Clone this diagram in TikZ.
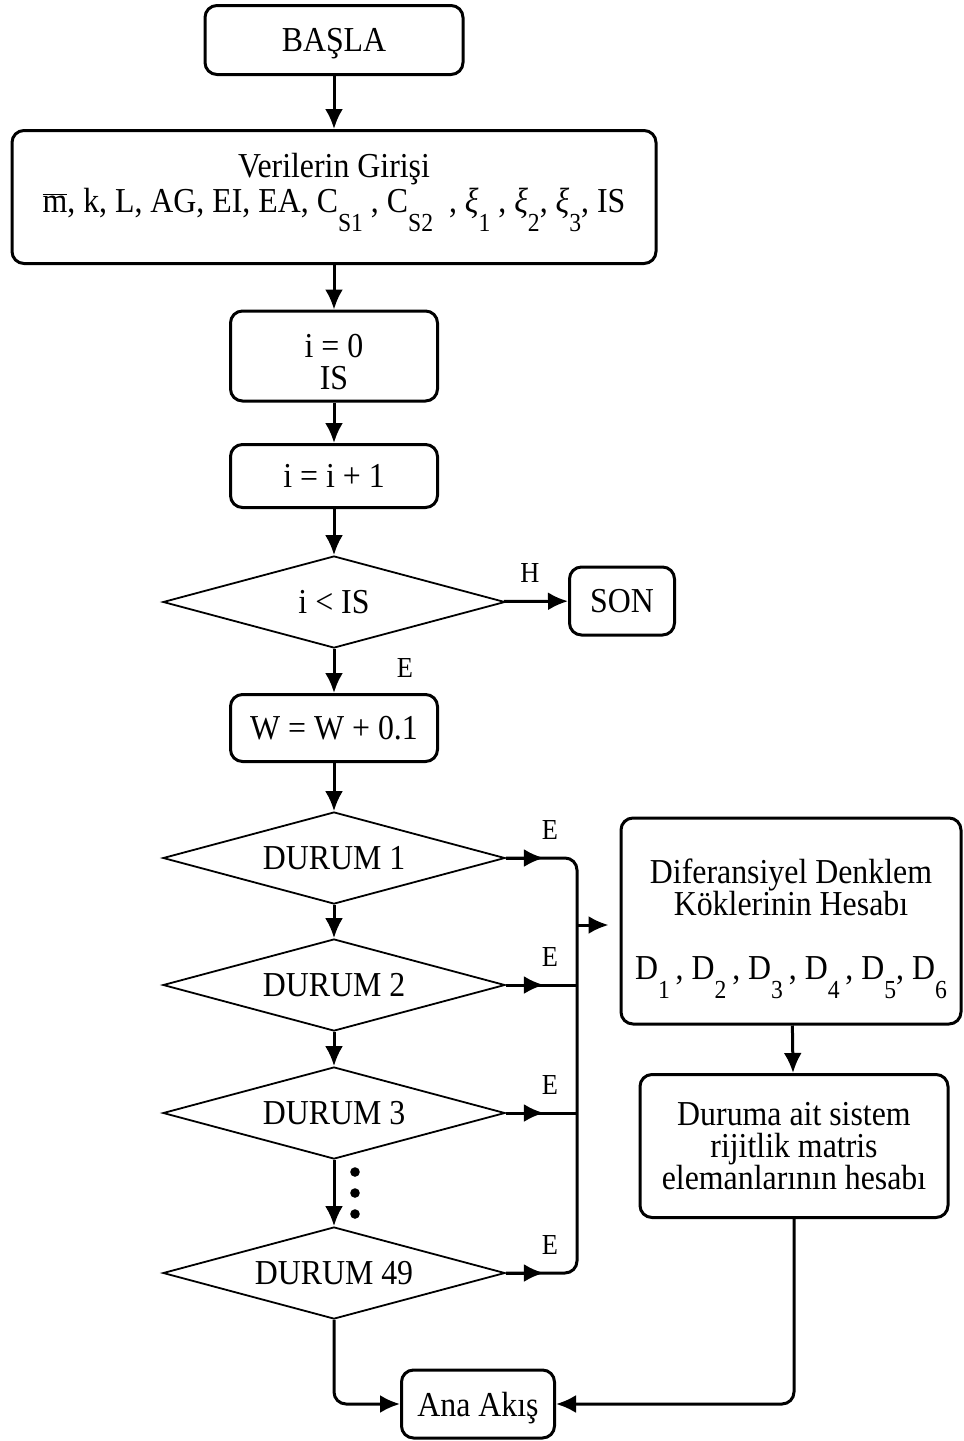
\documentclass[tikz,border=0pt]{standalone}
\usepackage{fontspec}
\setmainfont[FakeStretch=0.91]{Liberation Serif}
\usetikzlibrary{arrows.meta,positioning,shapes.geometric,calc}

\newcommand{\lowsub}[1]{\raisebox{-0.55em}{\fontsize{26}{26}\selectfont #1}}

\tikzset{
  procbox/.style={draw, rounded corners=12pt, line width=3pt, align=center,
                  inner sep=0pt, font=\fontsize{35}{32}\selectfont},
  decision/.style={draw, diamond, aspect=3.7, line width=1.8pt, minimum width=342pt,
                   minimum height=92pt, inner sep=0pt, font=\fontsize{35}{32}\selectfont},
  flow/.style={line width=3pt, -{Latex[length=20pt,width=18pt]}},
  plain/.style={line width=3pt},
  branch/.style={font=\fontsize{29}{30}\selectfont},
}

\begin{document}
\begin{tikzpicture}[x=1pt,y=-1pt]
\useasboundingbox (0,0) rectangle (964,1441);

% main column
\node[procbox, minimum width=258pt, minimum height=69pt, text depth=0pt] (basla) at (334,40) {BAŞLA};
\node[procbox, minimum width=644pt, minimum height=133pt, font=\fontsize{35}{35}\selectfont] (giris) at (334,197)
  {Verilerin Girişi\\
   $\overline{\hbox{m}}$, k, L, AG, EI, EA, C\lowsub{S1} , C\lowsub{S2} \ , \textit{ξ}\lowsub{1} , \textit{ξ}\lowsub{2}, \textit{ξ}\lowsub{3}, IS\\[-6pt]};
\node[procbox, minimum width=207pt, minimum height=90pt] (init) at (334,356) {i = 0\\IS\\[-44pt]};
\node[procbox, minimum width=207pt, minimum height=63pt] (incr) at (334,476) {i = i + 1};
\node[decision] (kontrol) at (334,602) {i < IS};
\node[procbox, minimum width=105pt, minimum height=68pt] (son) at (622,601) {SON};
\node[procbox, minimum width=207pt, minimum height=67pt] (wstep) at (334,728) {W = W + 0.1};

% cases
\node[decision] (dur1) at (334,858) {DURUM 1};
\node[decision] (dur2) at (334,985) {DURUM 2};
\node[decision] (dur3) at (334,1113) {DURUM 3};
\node[decision] (dur49) at (334,1273) {DURUM 49};
\foreach \yy in {1172,1193,1214}
  \fill (355,\yy) circle (4.8pt);

% right column
\node[procbox, minimum width=340pt, minimum height=206pt] (kok) at (791,921)
  {Diferansiyel Denklem\\Köklerinin Hesabı\\[32pt]
   D\lowsub{1}\,, D\lowsub{2}\,, D\lowsub{3}\,, D\lowsub{4}\,, D\lowsub{5}, D\lowsub{6}\\[-28pt]};
\node[procbox, minimum width=308pt, minimum height=143pt]
  (rijit) at (794,1146) {Duruma ait sistem\\rijitlik matris\\elemanlarının hesabı};
\node[procbox, minimum width=153pt, minimum height=68pt, text depth=0pt] (ana) at (478,1404) {Ana Akış};

\coordinate (bus) at (577,0);

% connectors
\draw[flow] (basla) -- (giris);
\draw[flow] (giris) -- (init);
\draw[flow] (init) -- (incr);
\draw[flow] (incr) -- (kontrol);
\draw[flow] (kontrol) -- (son);
\draw[flow] (kontrol) -- (wstep);
\draw[flow] (wstep) -- (dur1);
\draw[flow] (dur1) -- (dur2);
\draw[flow] (dur2) -- (dur3);
\draw[flow] (dur3) -- (dur49);

\draw[plain, rounded corners=12pt] (dur1.east) -- (dur1.east -| bus) -- (dur49.east -| bus) -- (dur49.east);
\draw[plain] (dur2.east) -- (dur2.east -| bus);
\draw[plain] (dur3.east) -- (dur3.east -| bus);
\foreach \d in {dur1,dur2,dur3,dur49}
  \draw[flow] (\d.east) -- ++(38,0);
\draw[flow, shorten >=11pt] (bus |- 0,925) -- (kok.west |- 0,925);

\draw[flow] (kok) -- (rijit);
\draw[flow, rounded corners=12pt] (dur49.south) |- (ana.west);
\draw[flow, rounded corners=12pt] (rijit.south) |- (ana.east);

% branch labels
\node[branch] (lblH) at (530,573) {H};
\node[branch] (lblE0) at (405,668) {E};
\node[branch] (lblE1) at (550,830) {E};
\node[branch] (lblE2) at (550,957) {E};
\node[branch] (lblE3) at (550,1085) {E};
\node[branch] (lblE49) at (550,1245) {E};
\end{tikzpicture}
\end{document}
